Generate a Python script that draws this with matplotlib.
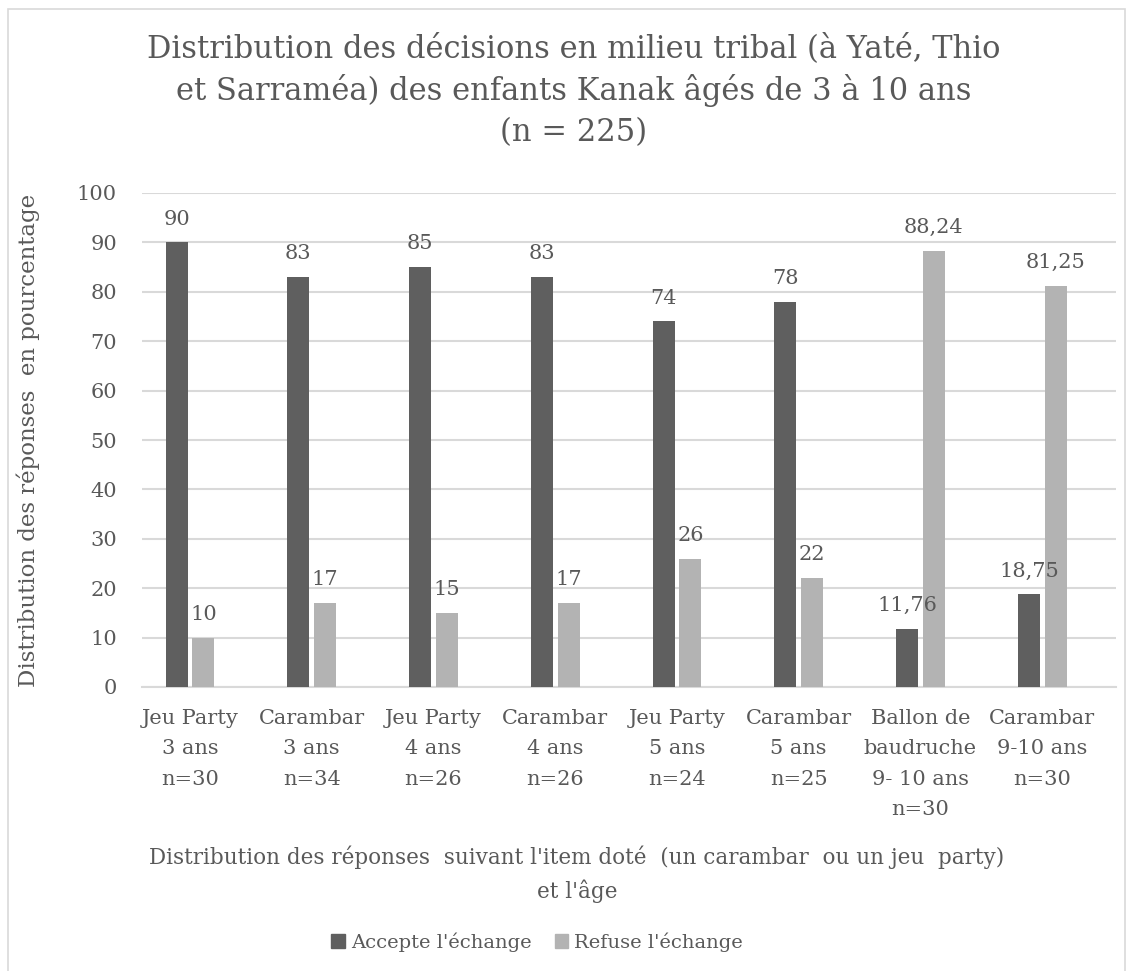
import matplotlib.pyplot as plt
import matplotlib.patches as mpatches
import numpy as np

categories = ['Jeu Party\n3 ans\nn=30', 'Carambar\n3 ans\nn=34', 'Jeu Party\n4 ans\nn=26',
              'Carambar\n4 ans\nn=26', 'Jeu Party\n5 ans\nn=24', 'Carambar\n5 ans\nn=25',
              'Ballon de\nbaudruche\n9- 10 ans\nn=30', 'Carambar\n9-10 ans\nn=30']
accepte = [90, 83, 85, 83, 74, 78, 11.76, 18.75]
refuse = [10, 17, 15, 17, 26, 22, 88.24, 81.25]
series_names = ["Accepte l'échange", "Refuse l'échange"]

dark = '#5f5f5f'
light = '#b3b3b3'
txt = '#595959'
grid = '#d9d9d9'

plt.rcParams['font.family'] = ['DejaVu Serif']

fig = plt.figure(figsize=(11.34, 9.71), dpi=100)
ax = fig.add_axes([142/1134, 1-687/971, 974/1134, 494/971])

x = np.arange(len(categories))
w = 0.18
b1 = ax.bar(x - 0.11, accepte, w, color=dark, label=series_names[0], zorder=3)
b2 = ax.bar(x + 0.11, refuse, w, color=light, label=series_names[1], zorder=3)

def fmt(v):
    return ('%g' % v).replace('.', ',')

for bars, vals in [(b1, accepte), (b2, refuse)]:
    for r, v in zip(bars, vals):
        ax.annotate(fmt(v), (r.get_x() + r.get_width()/2, v), xytext=(0, 10),
                    textcoords='offset points', ha='center', va='bottom',
                    fontsize=15, color=txt)

ax.set_xlim(-0.394, 7.606)
ax.set_ylim(0, 100)
ax.set_yticks(range(0, 101, 10))
ax.set_xticks(x)
ax.set_xticklabels(categories, fontsize=15, color=txt, linespacing=1.75)
ax.tick_params(axis='y', labelsize=15, labelcolor=txt, length=0, pad=18)
ax.tick_params(axis='x', length=0, pad=16)
ax.yaxis.grid(True, color=grid, linewidth=1.5, zorder=0)
for s in ['top', 'right', 'left']:
    ax.spines[s].set_visible(False)
ax.spines['bottom'].set_color(grid)
ax.spines['bottom'].set_linewidth(1.5)

ax.set_ylabel('Distribution des réponses  en pourcentage', fontsize=16.5, color=txt)
ax.yaxis.set_label_coords(-0.105, 0.5)

fig.text(574/1134, 1-33/971, 'Distribution des décisions en milieu tribal (à Yaté, Thio\n'
         'et Sarraméa) des enfants Kanak âgés de 3 à 10 ans\n(n = 225)',
         ha='center', va='top', fontsize=22, color=txt, linespacing=1.4)

fig.text(577/1134, 1-874/971, "Distribution des réponses  suivant l'item doté  (un carambar  ou un jeu  party)\net l'âge",
         ha='center', va='center', fontsize=15.5, color=txt, linespacing=1.55)

handles = [mpatches.Patch(color=dark, label=series_names[0]),
           mpatches.Patch(color=light, label=series_names[1])]
leg = fig.legend(handles=handles, loc='center', bbox_to_anchor=(537/1134, 1-942/971), ncol=2,
                 frameon=False, fontsize=14, handlelength=0.7, handleheight=0.7,
                 handletextpad=0.3, columnspacing=1.2)
for t in leg.get_texts():
    t.set_color(txt)

fig.patches.append(mpatches.Rectangle((8/1134, -0.05), 1117/1134, 1.05 - 9/971,
                                      transform=fig.transFigure, fill=False,
                                      edgecolor=grid, linewidth=1.2))

fig.savefig('out.png', dpi=100)
